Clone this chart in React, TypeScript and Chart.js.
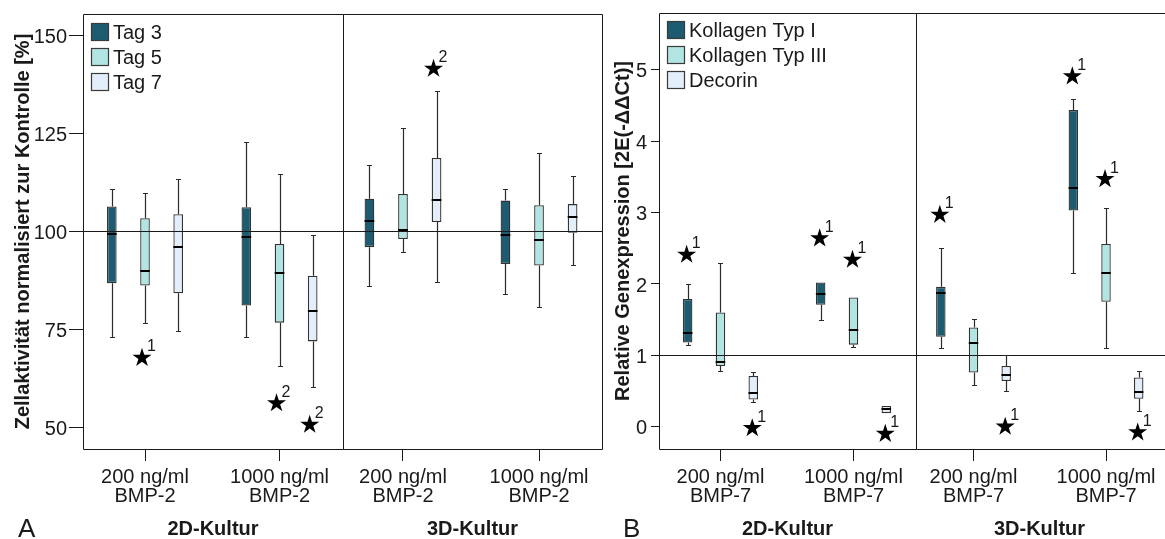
import React, { useEffect, useRef } from "react";
import { Chart, registerables } from "chart.js";

Chart.register(...registerables);

const FONT = '"Liberation Sans", Arial, Helvetica, sans-serif';
const H = 539;
const INK = "#1a1a1a";

// ---------- data ----------
const catPositions = [1, 2];
const catLabelsA = [["200 ng/ml", "BMP-2"], ["1000 ng/ml", "BMP-2"]];
const catLabelsB = [["200 ng/ml", "BMP-7"], ["1000 ng/ml", "BMP-7"]];
const seriesA = ["Tag 3", "Tag 5", "Tag 7"];
const seriesB = ["Kollagen Typ I", "Kollagen Typ III", "Decorin"];
const seriesColors = ["#1d5b71", "#b2e5e2", "#e3eefa"];
const yTicksA = [50, 75, 100, 125, 150];
const yTicksB = [0, 1, 2, 3, 4, 5];

// each entry: [whisker low, Q1, median, Q3, whisker high] for 200 and 1000 ng/ml
const a2dTag3 = [[73.1, 86.8, 99.4, 106.4, 110.9], [73.1, 81.1, 98.7, 106.2, 123.0]];
const a2dTag5 = [[76.5, 86.2, 89.8, 103.4, 109.8], [65.7, 76.7, 89.3, 96.8, 114.7]];
const a2dTag7 = [[74.5, 84.2, 96.0, 104.4, 113.5], [60.2, 71.9, 79.6, 88.7, 99.0]];
const a3dTag3 = [[86.0, 96.0, 102.7, 108.4, 117.0], [84.1, 91.7, 99.1, 107.9, 110.9]];
const a3dTag5 = [[94.7, 98.1, 100.3, 109.6, 126.4], [80.6, 91.3, 97.7, 106.7, 120.0]];
const a3dTag7 = [[87.2, 102.4, 108.1, 118.8, 135.8], [91.5, 99.7, 103.7, 107.0, 114.2]];

const b2dKol1 = [[1.15, 1.18, 1.32, 1.79, 2.0], [1.5, 1.71, 1.86, 2.02, 2.02]];
const b2dKol3 = [[0.78, 0.85, 0.91, 1.6, 2.3], [1.12, 1.15, 1.35, 1.81, 1.81]];
const b2dDeco = [[0.34, 0.38, 0.47, 0.71, 0.76], [0.19, 0.19, 0.25, 0.29, 0.29]];
const b3dKol1 = [[1.11, 1.26, 1.87, 1.96, 2.5], [2.16, 3.03, 3.34, 4.44, 4.59]];
const b3dKol3 = [[0.58, 0.76, 1.17, 1.39, 1.51], [1.1, 1.75, 2.16, 2.56, 3.06]];
const b3dDeco = [[0.5, 0.64, 0.73, 0.85, 1.0], [0.22, 0.39, 0.48, 0.69, 0.78]];

// outliers / extremes: [series index, category index, value, label]
const a2dOutliers: [number, number, number, string][] = [[1, 0, 67.7, "1"], [1, 1, 56.1, "2"], [2, 1, 50.6, "2"]];
const a3dOutliers: [number, number, number, string][] = [[2, 0, 141.6, "2"]];
const b2dOutliers: [number, number, number, string][] = [[0, 0, 2.41, "1"], [2, 0, -0.02, "1"], [0, 1, 2.64, "1"], [1, 1, 2.34, "1"], [2, 1, -0.1, "1"]];
const b3dOutliers: [number, number, number, string][] = [[0, 0, 2.97, "1"], [2, 0, 0.0, "1"], [0, 1, 4.91, "1"], [1, 1, 3.47, "1"], [2, 1, -0.08, "1"]];

type Panel = {
  left: number; width: number; padTop: number; padRight: number;
  yAxisWidth: number | null; yMin: number; yMax: number; yTicks: number[]; yTitle: string;
  yTickLen: number; yTickPad: number; yTitlePad: number;
  xMin: number; xMax: number; catLabels: string[][]; xTitle: string;
  series: string[]; stats: number[][][]; outliers: [number, number, number, string][];
  refValue: number; legend: boolean; legendTop: number; letter?: string; letterX?: number;
  openRight?: boolean; starShift: number;
};

const panels: Panel[] = [
  {
    left: 0, width: 350, padTop: 14, padRight: 7, yAxisWidth: 83, yMin: 44.4, yMax: 155.6, yTicks: yTicksA,
    yTitle: "Zellaktivität normalisiert zur Kontrolle [%]", yTickLen: 14, yTickPad: 2, yTitlePad: 11.8,
    xMin: 0.539, xMax: 2.472, catLabels: catLabelsA, xTitle: "2D-Kultur", series: seriesA,
    stats: [a2dTag3, a2dTag5, a2dTag7], outliers: a2dOutliers, refValue: 100, legend: true, legendTop: 9,
    letter: "A", letterX: 18, starShift: -3,
  },
  {
    left: 343, width: 270, padTop: 14, padRight: 11, yAxisWidth: null, yMin: 44.4, yMax: 155.6, yTicks: yTicksA,
    yTitle: "", yTickLen: 0, yTickPad: 0, yTitlePad: 0,
    xMin: 0.559, xMax: 2.463, catLabels: catLabelsA, xTitle: "3D-Kultur", series: seriesA,
    stats: [a3dTag3, a3dTag5, a3dTag7], outliers: a3dOutliers, refValue: 100, legend: false, legendTop: 0,
    starShift: -3,
  },
  {
    left: 590, width: 330, padTop: 13, padRight: 4, yAxisWidth: 69, yMin: -0.3125, yMax: 5.798, yTicks: yTicksB,
    yTitle: "Relative Genexpression [2E(-ΔΔCt)]", yTickLen: 8, yTickPad: 4, yTitlePad: 21.6,
    xMin: 0.538, xMax: 2.47, catLabels: catLabelsB, xTitle: "2D-Kultur", series: seriesB,
    stats: [b2dKol1, b2dKol3, b2dDeco], outliers: b2dOutliers, refValue: 1, legend: true, legendTop: 8,
    letter: "B", letterX: 33, starShift: -1,
  },
  {
    left: 916, width: 249, padTop: 13, padRight: 2, yAxisWidth: null, yMin: -0.3125, yMax: 5.798, yTicks: yTicksB,
    yTitle: "", yTickLen: 0, yTickPad: 0, yTitlePad: 0,
    xMin: 0.566, xMax: 2.43, catLabels: catLabelsB, xTitle: "3D-Kultur", series: seriesB,
    stats: [b3dKol1, b3dKol3, b3dDeco], outliers: b3dOutliers, refValue: 1, legend: false, legendTop: 0,
    openRight: true, starShift: -1,
  },
];

function drawStar(ctx: CanvasRenderingContext2D, cx: number, cy: number, R: number) {
  const r = R * 0.382;
  ctx.beginPath();
  for (let k = 0; k < 10; k++) {
    const ang = -Math.PI / 2 + (k * Math.PI) / 5;
    const rad = k % 2 === 0 ? R : r;
    const px = cx + rad * Math.cos(ang);
    const py = cy + rad * Math.sin(ang);
    if (k === 0) ctx.moveTo(px, py);
    else ctx.lineTo(px, py);
  }
  ctx.closePath();
  ctx.fill();
}

function makePlugin(p: Panel) {
  return {
    id: "boxExtras",
    afterDatasetsDraw(chart: any) {
      const { ctx, chartArea: a } = chart;
      const y = chart.scales.y;
      const py = (v: number) => y.getPixelForValue(v);
      ctx.save();
      // reference line
      const ry = Math.round(py(p.refValue)) + 0.5;
      ctx.strokeStyle = INK;
      ctx.lineWidth = 1;
      ctx.beginPath();
      ctx.moveTo(a.left, ry);
      ctx.lineTo(p.openRight ? chart.width : a.right, ry);
      ctx.stroke();
      // whiskers and medians
      p.stats.forEach((ser, si) => {
        const meta = chart.getDatasetMeta(si);
        ser.forEach((st, ci) => {
          const bar = meta.data[ci];
          const x = Math.round(bar.x) + 0.5;
          const w = bar.width;
          const [lo, q1, med, q3, hi] = st;
          ctx.strokeStyle = "#2a2a2a";
          ctx.lineWidth = 1.2;
          ctx.beginPath();
          if (hi > q3) {
            ctx.moveTo(x, py(q3));
            ctx.lineTo(x, Math.round(py(hi)) + 0.5);
            ctx.moveTo(x - 2.5, Math.round(py(hi)) + 0.5);
            ctx.lineTo(x + 2.5, Math.round(py(hi)) + 0.5);
          }
          if (lo < q1) {
            ctx.moveTo(x, py(q1));
            ctx.lineTo(x, Math.round(py(lo)) + 0.5);
            ctx.moveTo(x - 2.5, Math.round(py(lo)) + 0.5);
            ctx.lineTo(x + 2.5, Math.round(py(lo)) + 0.5);
          }
          ctx.stroke();
          ctx.strokeStyle = "#000";
          ctx.lineWidth = 2;
          ctx.beginPath();
          const my = Math.round(py(med));
          ctx.moveTo(bar.x - w / 2, my);
          ctx.lineTo(bar.x + w / 2, my);
          ctx.stroke();
        });
      });
      // outliers (stars)
      p.outliers.forEach(([si, ci, v, lab]) => {
        const bar = chart.getDatasetMeta(si).data[ci];
        const cx = bar.x + p.starShift;
        const cy = py(v);
        ctx.fillStyle = "#000";
        drawStar(ctx, cx, cy, 10);
        ctx.font = `16px ${FONT}`;
        ctx.textAlign = "left";
        ctx.textBaseline = "middle";
        ctx.fillStyle = INK;
        ctx.fillText(lab, cx + 5, cy - 11);
      });
      ctx.restore();
    },
    afterDraw(chart: any) {
      const { ctx, chartArea: a } = chart;
      ctx.save();
      ctx.strokeStyle = INK;
      ctx.lineWidth = 1;
      const L = Math.floor(a.left) + 0.5;
      const R = Math.floor(a.right) + 0.5;
      const T = Math.floor(a.top) + 0.5;
      const B = Math.floor(a.bottom) + 0.5;
      const rightEnd = p.openRight ? chart.width : R;
      ctx.beginPath();
      ctx.moveTo(L, T); ctx.lineTo(rightEnd, T);
      ctx.moveTo(L, B); ctx.lineTo(rightEnd, B);
      ctx.moveTo(L, T); ctx.lineTo(L, B);
      if (!p.openRight) { ctx.moveTo(R, T); ctx.lineTo(R, B); }
      ctx.stroke();
      if (p.legend) {
        p.series.forEach((name, i) => {
          const sx = Math.floor(a.left) + 8;
          const sy = Math.floor(a.top) + p.legendTop + i * 25;
          ctx.fillStyle = seriesColors[i];
          ctx.fillRect(sx, sy, 18, 18);
          ctx.strokeStyle = "#3a3a3a";
          ctx.lineWidth = 1.2;
          ctx.strokeRect(sx + 0.5, sy + 0.5, 17, 17);
          ctx.fillStyle = INK;
          ctx.font = `20px ${FONT}`;
          ctx.textAlign = "left";
          ctx.textBaseline = "middle";
          ctx.fillText(name, sx + 22, sy + 10);
        });
      }
      if (p.letter) {
        ctx.fillStyle = INK;
        ctx.font = `26px ${FONT}`;
        ctx.textAlign = "left";
        ctx.textBaseline = "alphabetic";
        ctx.fillText(p.letter, p.letterX, 537);
      }
      ctx.restore();
    },
  };
}

function buildConfig(p: Panel): any {
  const yScale: any =
    p.yAxisWidth == null
      ? { display: false, min: p.yMin, max: p.yMax }
      : {
          min: p.yMin,
          max: p.yMax,
          afterBuildTicks: (s: any) => {
            s.ticks = p.yTicks.map((v) => ({ value: v }));
          },
          afterFit: (s: any) => {
            s.width = p.yAxisWidth;
            s.paddingTop = 0;
            s.paddingBottom = 0;
          },
          ticks: { font: { size: 20, family: FONT }, color: INK, padding: p.yTickPad, labelOffset: 2 },
          grid: { drawOnChartArea: false, drawTicks: true, tickLength: p.yTickLen, color: INK, lineWidth: 1 },
          border: { display: false },
          title: {
            display: true,
            text: p.yTitle,
            font: { size: 20, weight: "bold", family: FONT, lineHeight: 1.2 },
            color: INK,
            padding: { top: p.yTitlePad, bottom: 0 },
          },
        };
  return {
    type: "bar",
    data: {
      datasets: p.series.map((name, si) => ({
        label: name,
        data: catPositions.map((x, ci) => ({ x, y: [p.stats[si][ci][1], p.stats[si][ci][3]] })),
        backgroundColor: seriesColors[si],
        borderColor: "#333333",
        borderWidth: 1.3,
        borderSkipped: false,
        categoryPercentage: 0.74,
        barPercentage: 0.29,
      })),
    },
    options: {
      animation: false,
      responsive: false,
      devicePixelRatio: 1,
      events: [],
      layout: { padding: { left: 0, right: p.padRight, top: p.padTop, bottom: 0 } },
      plugins: { legend: { display: false }, tooltip: { enabled: false }, title: { display: false } },
      scales: {
        x: {
          type: "linear",
          min: p.xMin,
          max: p.xMax,
          offset: false,
          afterBuildTicks: (s: any) => {
            s.ticks = catPositions.map((v) => ({ value: v }));
          },
          afterFit: (s: any) => {
            s.height = 90;
            s.paddingLeft = 0;
            s.paddingRight = 0;
          },
          ticks: {
            callback: (_v: any, i: number) => p.catLabels[i],
            font: { size: 20, family: FONT, lineHeight: 0.95 },
            color: INK,
            padding: 7,
            maxRotation: 0,
            autoSkip: false,
          },
          grid: { drawOnChartArea: false, drawTicks: true, tickLength: 12, color: INK, lineWidth: 1, offset: false },
          border: { display: false },
          title: {
            display: true,
            text: p.xTitle,
            font: { size: 20, weight: "bold", family: FONT, lineHeight: 1.0 },
            color: INK,
            padding: { top: 0, bottom: 0 },
          },
        },
        y: yScale,
      },
    },
    plugins: [makePlugin(p)],
  };
}

function PanelCanvas({ p }: { p: Panel }) {
  const ref = useRef<HTMLCanvasElement>(null);
  useEffect(() => {
    if (!ref.current) return;
    const chart = new Chart(ref.current, buildConfig(p));
    return () => chart.destroy();
  }, []);
  return (
    <canvas
      ref={ref}
      width={p.width}
      height={H}
      style={{ position: "absolute", left: p.left, top: 0, width: p.width, height: H, display: "block" }}
    />
  );
}

export default function App() {
  return (
    <div
      style={{
        position: "fixed",
        left: 0,
        top: 0,
        width: 1165,
        height: H,
        overflow: "hidden",
        background: "#fff",
      }}
    >
      {panels.map((p, i) => (
        <PanelCanvas key={i} p={p} />
      ))}
    </div>
  );
}
